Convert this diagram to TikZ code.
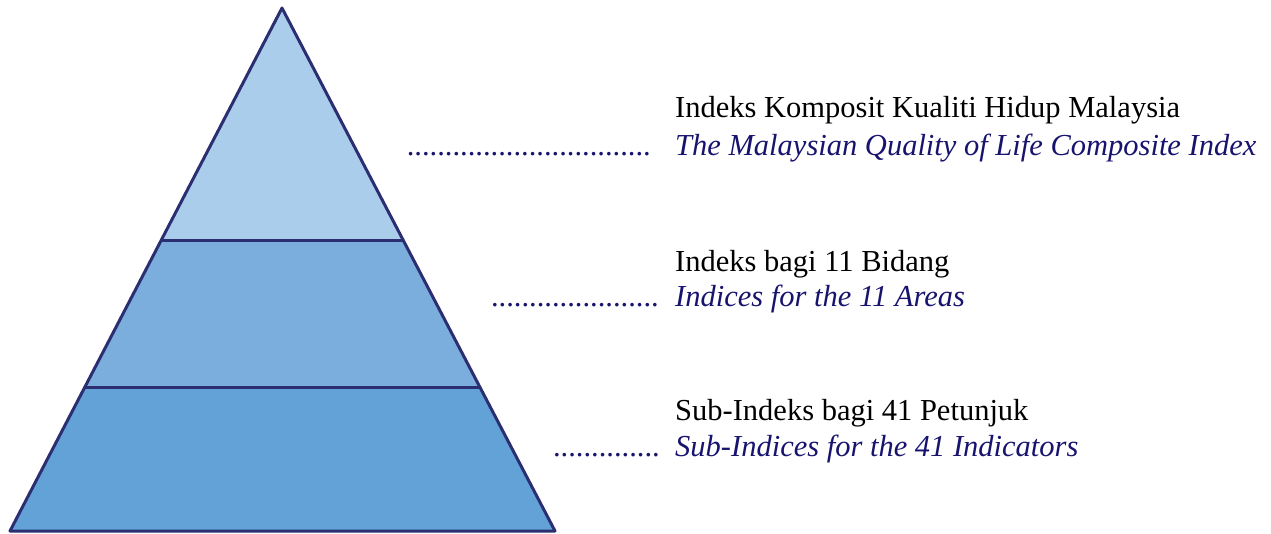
\documentclass[tikz,border=0pt]{standalone}
\usepackage{fontspec}
\setmainfont{Liberation Serif}
\usetikzlibrary{positioning, calc}
\definecolor{tiertop}{RGB}{171,205,236}
\definecolor{tiermid}{RGB}{123,174,221}
\definecolor{tierbase}{RGB}{98,162,215}
\definecolor{pyrnavy}{RGB}{43,47,114}
\definecolor{txtblue}{RGB}{24,20,110}

\begin{document}
\begin{tikzpicture}[
  x=1pt, y=-1pt,
  outline/.style={draw=pyrnavy, line width=3pt, line join=round},
  malay/.style={anchor=base west, inner sep=0pt, font=\fontsize{30.5}{37}\selectfont},
  eng/.style={malay, text=txtblue, font=\fontsize{30.5}{37}\selectfont\itshape},
  leader/.style={anchor=base east, inner sep=0pt, text=txtblue, font=\fontsize{30.5}{37}\selectfont}
]
  \useasboundingbox (0,0) rectangle (1271,534);

  % pyramid
  \coordinate (apex) at (282,8);
  \coordinate (bl) at (10,531);
  \coordinate (br) at (555,531);
  \coordinate (l1) at ($(apex)!0.4455!(bl)$);
  \coordinate (r1) at ($(apex)!0.4455!(br)$);
  \coordinate (l2) at ($(apex)!0.7247!(bl)$);
  \coordinate (r2) at ($(apex)!0.7247!(br)$);

  \fill[tierbase] (l2) -- (bl) -- (br) -- (r2) -- cycle;
  \fill[tiermid] (l1) -- (l2) -- (r2) -- (r1) -- cycle;
  \fill[tiertop] (apex) -- (l1) -- (r1) -- cycle;
  \draw[outline] (apex) -- (bl) -- (br) -- cycle;
  \draw[outline] (l1) -- (r1);
  \draw[outline] (l2) -- (r2);

  % labels
  \node[malay] (m1) at (675,118) {Indeks Komposit Kualiti Hidup Malaysia};
  \node[eng] (e1) at (675,156) {The Malaysian Quality of Life Composite Index};
  \node[malay] (m2) at (675,272) {Indeks bagi 11 Bidang};
  \node[eng] (e2) at (675,307) {Indices for the 11 Areas};
  \node[malay] (m3) at (675,420) {Sub-Indeks bagi 41 Petunjuk};
  \node[eng] (e3) at (675,456) {Sub-Indices for the 41 Indicators};

  % dotted leaders
  \node[leader] (d1) at ([xshift=-24pt]e1.base west) {................................};
  \node[leader] (d2) at ([xshift=-16pt]e2.base west) {......................};
  \node[leader] (d3) at ([xshift=-15pt]e3.base west) {..............};
\end{tikzpicture}
\end{document}
